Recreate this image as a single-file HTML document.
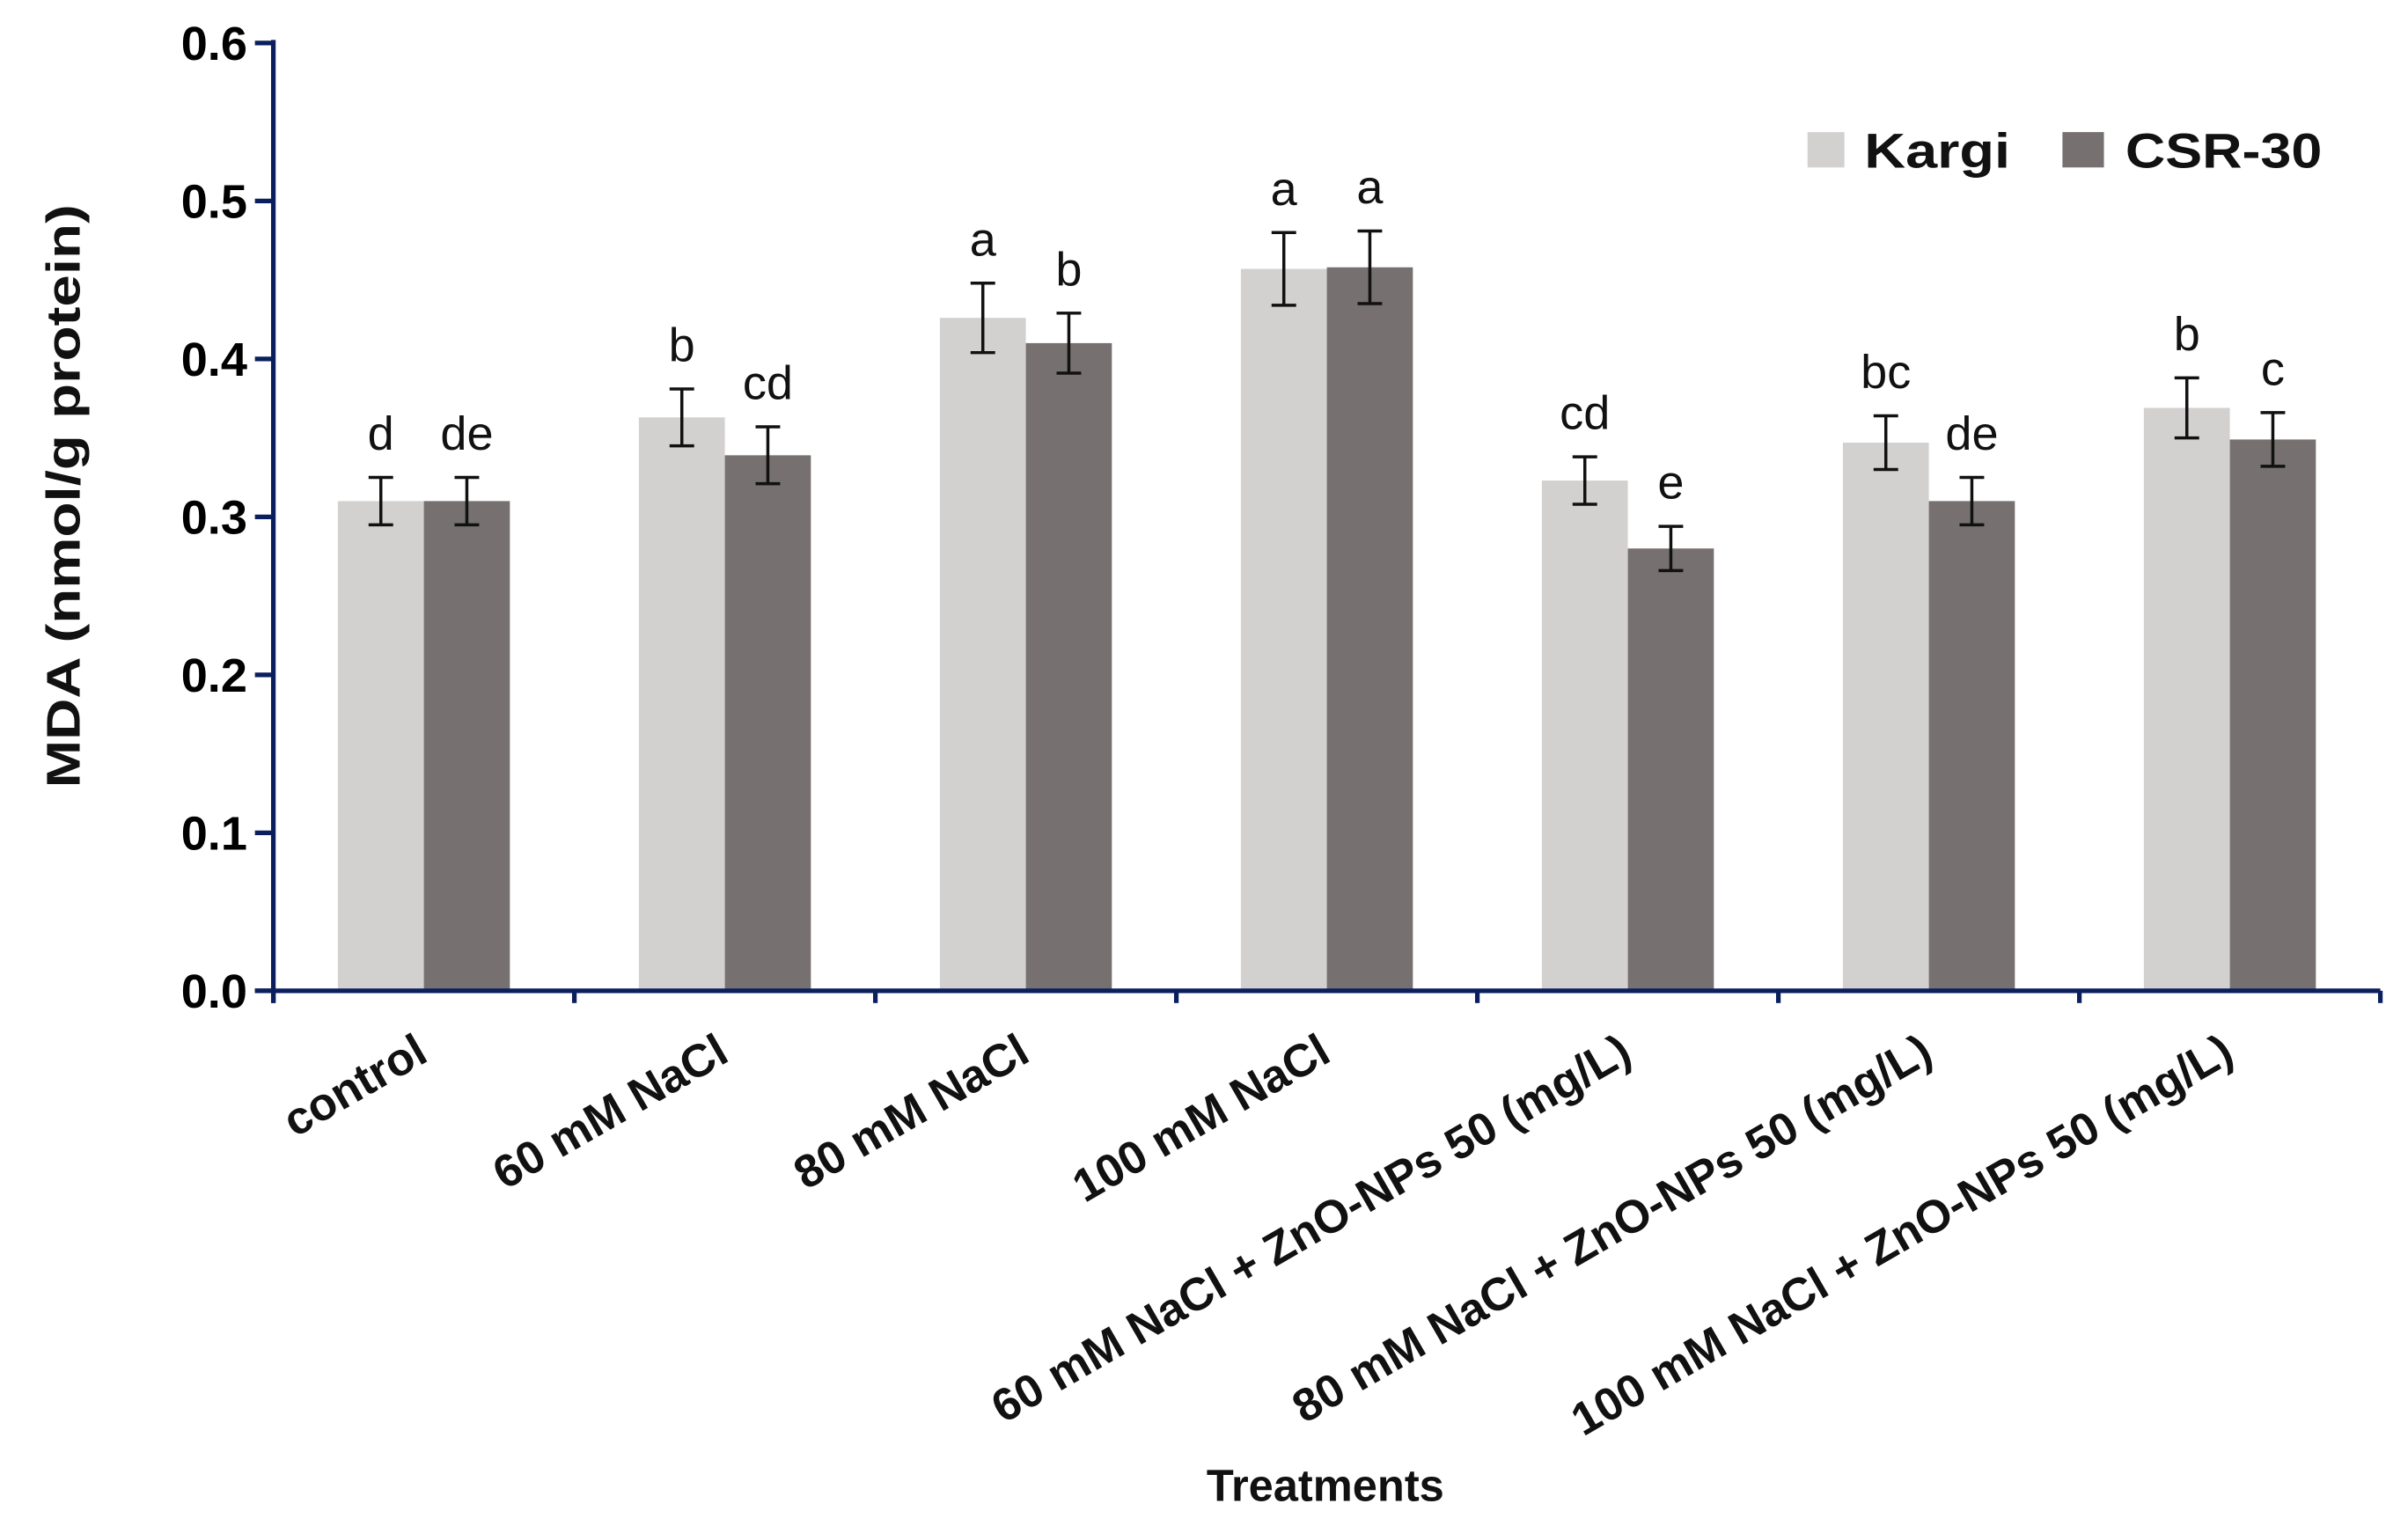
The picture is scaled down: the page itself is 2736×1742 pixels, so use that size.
<!DOCTYPE html>
<html><head><meta charset="utf-8"><style>
html,body{margin:0;padding:0;background:#fff;}
svg{display:block;font-family:"Liberation Sans",sans-serif;}
</style></head><body>
<svg id="chart" width="2736" height="1742" viewBox="0 0 1568 998" preserveAspectRatio="none" xmlns="http://www.w3.org/2000/svg">
<g id="plot"></g>
</svg>
<script>
const categories = ["control","60 mM NaCl","80 mM NaCl","100 mM NaCl","60 mM NaCl + ZnO-NPs 50 (mg/L)","80 mM NaCl + ZnO-NPs 50 (mg/L)","100 mM NaCl + ZnO-NPs 50 (mg/L)"];
const kargiValues = [0.310, 0.363, 0.426, 0.457, 0.323, 0.347, 0.369];
const csrValues = [0.310, 0.339, 0.410, 0.458, 0.280, 0.310, 0.349];
const kargiErrors = [0.015, 0.018, 0.022, 0.023, 0.015, 0.017, 0.019];
const csrErrors = [0.015, 0.018, 0.019, 0.023, 0.014, 0.015, 0.017];
const kargiLetters = ["d","b","a","a","cd","bc","b"];
const csrLetters = ["de","cd","b","a","e","de","c"];
const yTicks = [0.0, 0.1, 0.2, 0.3, 0.4, 0.5, 0.6];
const yTickLabels = ["0.0","0.1","0.2","0.3","0.4","0.5","0.6"];

const NS = "http://www.w3.org/2000/svg";
const g = document.getElementById("plot");
const X0 = 178, X1 = 1550, Y0 = 645, YTOP = 28, YMAX = 0.6;
const catW = (X1 - X0) / categories.length;
const barW = 56;
function yScale(v){ return Y0 - (v / YMAX) * (Y0 - YTOP); }
function xCenter(i){ return X0 + catW * (i + 0.5); }
function el(tag, attrs, parent){ const e = document.createElementNS(NS, tag); for (const k in attrs) e.setAttribute(k, attrs[k]); (parent||g).appendChild(e); return e; }

const axisColor = "#0b1f5e";
yTicks.forEach((t, i) => {
  const y = yScale(t);
  const tk = el("line", {x1: X0 - 12, x2: X0, y1: y, y2: y, stroke: axisColor, "stroke-width": 3});
  
  
  const lb = el("text", {x: 161, y: y + 11, "text-anchor": "end", "font-size": 31, "font-weight": "bold", fill: "#000"});
  lb.textContent = yTickLabels[i];
  
  
});

categories.forEach((c, i) => {
  const cx = xCenter(i);
  const series = [
    {v: kargiValues[i], e: kargiErrors[i], l: kargiLetters[i], x: cx - barW, fill: "#d3d0d0", name: "kargi"},
    {v: csrValues[i], e: csrErrors[i], l: csrLetters[i], x: cx, fill: "#767070", name: "csr-30"}
  ];
  series.forEach(s => {
    const y = yScale(s.v);
    const b = el("rect", {x: s.x, y: y, width: barW, height: Y0 - y, fill: s.fill});
    
    
    const mx = s.x + barW / 2;
    const yt = yScale(s.v + s.e), yb = yScale(s.v - s.e);
    const eg = el("g", {stroke: "#111", "stroke-width": 2});
    
    
    el("line", {x1: mx, x2: mx, y1: yt, y2: yb}, eg);
    el("line", {x1: mx - 8, x2: mx + 8, y1: yt, y2: yt}, eg);
    el("line", {x1: mx - 8, x2: mx + 8, y1: yb, y2: yb}, eg);
    const t = el("text", {x: mx, y: yt - 18, "text-anchor": "middle", "font-size": 31, fill: "#111"});
    t.textContent = s.l;
    
    
  });
  const lx = cx + 4, ly = 690;
  const xl = el("text", {x: lx, y: ly, "text-anchor": "end", "font-size": 30, "font-weight": "bold", fill: "#111", transform: "rotate(-30 " + lx + " " + ly + ")"});
  xl.textContent = c;
  
  
});

for (let i = 0; i <= categories.length; i++) {
  const x = X0 + catW * i;
  const tk = el("line", {x1: x, x2: x, y1: Y0, y2: Y0 + 8, stroke: axisColor, "stroke-width": 3});
  
  
}
const ya = el("line", {x1: X0, x2: X0, y1: YTOP - 2, y2: Y0 + 8, stroke: axisColor, "stroke-width": 3});


const xa = el("line", {x1: X0 - 12, x2: X1, y1: Y0, y2: Y0, stroke: axisColor, "stroke-width": 3});



const yt = el("text", {x: 0, y: 0, "text-anchor": "middle", "font-size": 31, "font-weight": "bold", fill: "#111", textLength: 380, lengthAdjust: "spacingAndGlyphs", transform: "translate(52 323) rotate(-90)"});
yt.textContent = "MDA (nmol/g  protein)";


const xt = el("text", {x: 863, y: 977, "text-anchor": "middle", "font-size": 29, "font-weight": "bold", fill: "#111"});
xt.textContent = "Treatments";



const lg = el("g", {});


const s1 = el("rect", {x: 1177, y: 86, width: 24, height: 23, fill: "#d3d0d0"}, lg);


const t1 = el("text", {x: 1214, y: 109, "font-size": 32, "font-weight": "bold", fill: "#111", textLength: 95, lengthAdjust: "spacingAndGlyphs"}, lg);
t1.textContent = "Kargi";


const s2 = el("rect", {x: 1343, y: 86, width: 27, height: 23, fill: "#767070"}, lg);


const t2 = el("text", {x: 1384, y: 109, "font-size": 32, "font-weight": "bold", fill: "#111", textLength: 128, lengthAdjust: "spacingAndGlyphs"}, lg);
t2.textContent = "CSR-30";


</script>
</body></html>
